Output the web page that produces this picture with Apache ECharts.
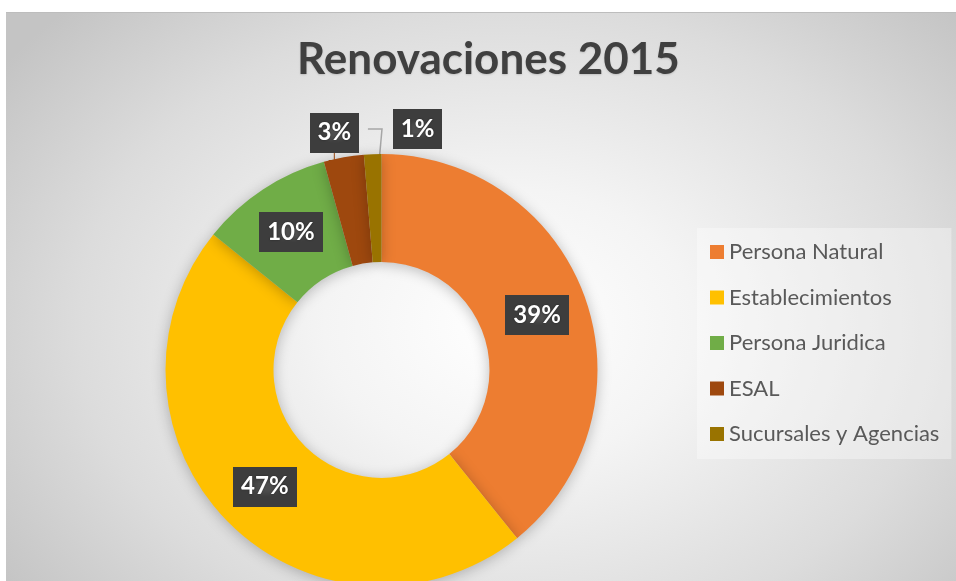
<!DOCTYPE html>
<html><head><meta charset="utf-8">
<script src="https://cdn.jsdelivr.net/npm/echarts/dist/echarts.min.js"></script>
<style>
html,body{margin:0;padding:0;background:#fff;}
#bg{position:absolute;left:6px;top:12px;width:950px;height:569px;border-top:1px solid #bdbdbd;box-sizing:border-box;
background:radial-gradient(ellipse 65% 80% at 53% 55%, #ffffff 0%, #f4f4f4 30%, #dcdcdc 70%, #c4c4c4 100%);}
#chart{position:absolute;left:0;top:0;width:956px;height:581px;}
</style></head><body>
<div id="bg"></div><div id="chart"></div>
<script>
const titleText = 'Renovaciones 2015';
const categories = ['Persona Natural', 'Establecimientos', 'Persona Juridica', 'ESAL', 'Sucursales y Agencias'];
const values = [39.2, 46.6, 9.9, 3.0, 1.3];
const colors = ['#ED7D31', '#FFC000', '#70AD47', '#9E480E', '#997300'];

const CX = 381.5, CY = 370, R0 = 108, R1 = 216;
const total = values.reduce((a, b) => a + b, 0);
function midAngle(i) {
  let c = 0;
  for (let k = 0; k < i; k++) c += values[k];
  return (c + values[i] / 2) / total * 2 * Math.PI;
}

// dotted label background pattern
const pat = document.createElement('canvas');
pat.width = 6; pat.height = 6;
const pctx = pat.getContext('2d');
pctx.fillStyle = '#3d3d3d'; pctx.fillRect(0, 0, 6, 6);
pctx.fillStyle = '#4e4e4e'; pctx.fillRect(2, 2, 2, 2);

const chart = echarts.init(document.getElementById('chart'));
const data = categories.map((name, i) => {
  const d = { name: name, value: values[i], itemStyle: { color: colors[i] } };
  if (i === 4) {
    d.label = { position: 'outside' };
    d.labelLine = { show: true, length: 10, length2: 10, lineStyle: { color: '#a6a6a6', width: 1.5 } };
  }
  return d;
});

chart.setOption({
  animation: false,
  title: {
    text: titleText, left: 297, top: 38, padding: 0,
    textStyle: { fontFamily: 'Lato', fontWeight: 'bold', fontSize: 44, color: '#404040',
      textShadowColor: 'rgba(0,0,0,0.15)', textShadowBlur: 2, textShadowOffsetY: 1 }
  },
  legend: {
    orient: 'vertical', left: 697, top: 228, padding: [11, 12, 12, 13],
    itemWidth: 14, itemHeight: 14, itemGap: 19.5, icon: 'rect',
    backgroundColor: 'rgba(255,255,255,0.35)',
    textStyle: { fontFamily: 'Lato', fontSize: 22, color: '#595959', lineHeight: 26 },
    data: categories
  },
  series: [{
    type: 'pie',
    center: [CX, CY],
    radius: [R0, R1],
    startAngle: 90,
    clockwise: true,
    avoidLabelOverlap: false,
    itemStyle: { shadowBlur: 14, shadowColor: 'rgba(0,0,0,0.25)', shadowOffsetY: 2 },
    label: {
      show: true, position: 'inside',
      formatter: p => Math.round(p.percent) + '%',
      color: '#ffffff', fontFamily: 'Lato', fontWeight: 'bold', fontSize: 24, lineHeight: 28,
      padding: [6, 8, 6, 8],
      backgroundColor: { image: pat },
      shadowColor: 'rgba(0,0,0,0.5)', shadowBlur: 6, shadowOffsetX: 3, shadowOffsetY: 3,
      textShadowColor: 'rgba(0,0,0,0.4)', textShadowBlur: 2
    },
    labelLayout: function (p) {
      const i = p.dataIndex;
      if (i === 3) {
        const a = midAngle(i);
        return { x: CX + 241 * Math.sin(a) - 5, y: CY - 241 * Math.cos(a), align: 'center', verticalAlign: 'middle' };
      }
      if (i === 4) {
        const a = midAngle(i);
        const ly = CY - 241, lx = CX + 36, rm = (R0 + R1) / 2;
        return {
          x: lx, y: ly, align: 'center', verticalAlign: 'middle',
          labelLinePoints: [[CX + rm * Math.sin(a), CY - rm * Math.cos(a)], [CX + 0.5, ly], [lx - p.labelRect.width / 2, ly]]
        };
      }
      return {};
    },
    emphasis: { disabled: true },
    data: data
  }]
});
</script>
</body></html>
